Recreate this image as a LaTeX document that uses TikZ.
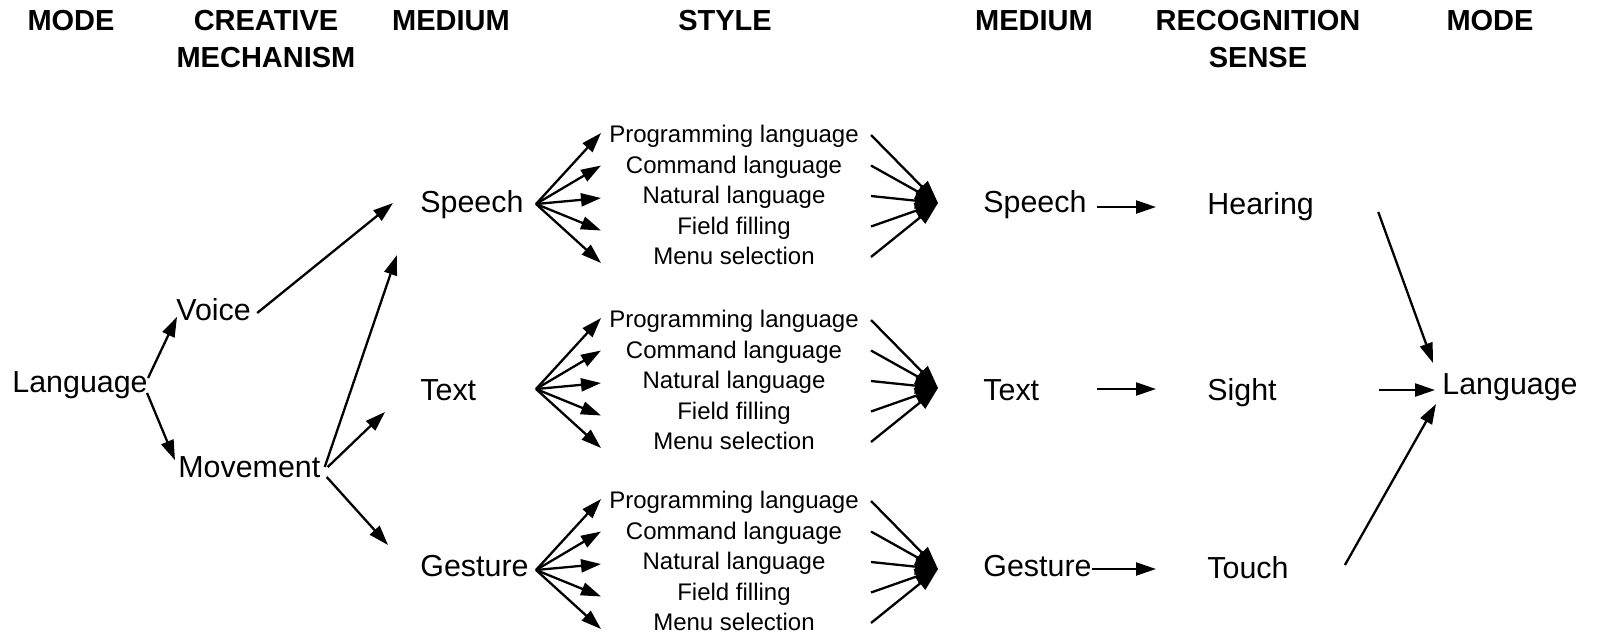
\documentclass[tikz,border=0pt]{standalone}
\usepackage{fontspec}
\setmainfont{Liberation Sans}
\usetikzlibrary{arrows.meta,calc}

\begin{document}
\begin{tikzpicture}[x=0.5pt,y=-0.5pt,
  hdr/.style={font=\bfseries\fontsize{14.5}{18.5}\selectfont, align=center, inner sep=0pt},
  lbl/.style={font=\fontsize{15.2}{18}\selectfont, inner sep=0pt, anchor=west,
              text height=0.7em, text depth=0.04em},
  sty/.style={font=\fontsize{12}{14}\selectfont, inner sep=0pt,
              text height=0.7em, text depth=0.04em},
  arr/.style={-{Triangle[length=10pt,width=6.5pt]}, line width=1.15pt},
  hubarr/.style={-{Triangle[length=11.5pt,width=8pt]}, line width=1.15pt},
]
\useasboundingbox (0,0) rectangle (1600,638);

% column headings
\node[hdr] (h1) at (71,21)    {MODE};
\node[hdr] (h2) at (266,39.5) {CREATIVE\\MECHANISM};
\node[hdr] (h3) at (451,21)   {MEDIUM};
\node[hdr] (h4) at (725,21)   {STYLE};
\node[hdr] (h5) at (1034,21)  {MEDIUM};
\node[hdr] (h6) at (1258,39.5){RECOGNITION\\SENSE};
\node[hdr] (h7) at (1490,21)  {MODE};

% left side: mode, mechanism, medium
\node[lbl] (lang)  at (12,386)  {Language};
\node[lbl] (voice) at (176,314) {Voice};
\node[lbl] (move)  at (178,471) {Movement};
\node[lbl] (sp)    at (420,206) {Speech};
\node[lbl] (tx)    at (420,394) {Text};
\node[lbl] (ge)    at (420,570) {Gesture};

% right side: medium, recognition sense, mode
\node[lbl] (rsp)   at (983,206)  {Speech};
\node[lbl] (rtx)   at (983,394)  {Text};
\node[lbl] (rge)   at (983,570)  {Gesture};
\node[lbl] (hear)  at (1207,208) {Hearing};
\node[lbl] (sight) at (1207,394) {Sight};
\node[lbl] (touch) at (1207,572) {Touch};
\node[lbl] (rlang) at (1442,388) {Language};

% mode -> mechanism -> medium
\draw[arr] ($(lang.east)+(0,-8)$)   -- ($(voice.south west)+(1,-5)$);
\draw[arr] ($(lang.east)+(-1,7)$)   -- ($(move.north west)+(-3,-3)$);
\draw[arr] ($(voice.east)+(6,-1)$)  -- ($(sp.west)+(-27,-3)$);
\draw[arr] ($(move.east)+(4,-4)$)   -- ($(sp.west)+(-23,49)$);
\draw[arr] ($(move.east)+(7,-4)$)   -- ($(tx.west)+(-35,18)$);
\draw[arr] ($(move.east)+(6,6)$)    -- ($(ge.west)+(-32,-25)$);

% style lists with their fans
\coordinate (tipcol) at (601,0);
\coordinate (srccol) at (871,0);
\foreach \g/\R in {sp/197, tx/382, ge/563} {
  \foreach \r/\k/\t in {p/-2/Programming language, c/-1/Command language,
                        n/0/Natural language, f/1/Field filling, m/2/Menu selection}
    \node[sty] (\g-\r) at (734,{\R+30.5*\k}) {\t};
  \coordinate (\g-fan) at (536,{\R+7});
  \coordinate (\g-hub) at (938,{\R+6});
  \foreach \r/\k in {p/-2, c/-1, n/0, f/1, m/2} {
    \draw[arr] (\g-fan) -- ($(tipcol |- \g-\r)+(0,{1+2*\k})$);
    \draw[hubarr] ($(srccol |- \g-\r)+(0,-1)$) -- (\g-hub);
  }
}

% medium -> recognition sense
\coordinate (accol) at (1097,0);
\draw[arr] ($(accol |- rsp)+(0,1)$)  -- ($(hear.west)+(-51,-1)$);
\draw[arr] ($(accol |- rtx)+(0,-5)$) -- ($(sight.west)+(-51,-5)$);
\draw[arr] ($(accol |- rge)+(-5,-1)$) -- ($(touch.west)+(-51,-3)$);

% recognition sense -> mode
\draw[arr] ($(hear.east)+(64,4)$)    -- ($(rlang.west)+(-9,-25)$);
\draw[arr] ($(sight.east)+(102,-4)$) -- ($(rlang.west)+(-7,2)$);
\draw[arr] ($(touch.east)+(56,-7)$)  -- ($(rlang.west)+(-6,16)$);
\end{tikzpicture}
\end{document}
